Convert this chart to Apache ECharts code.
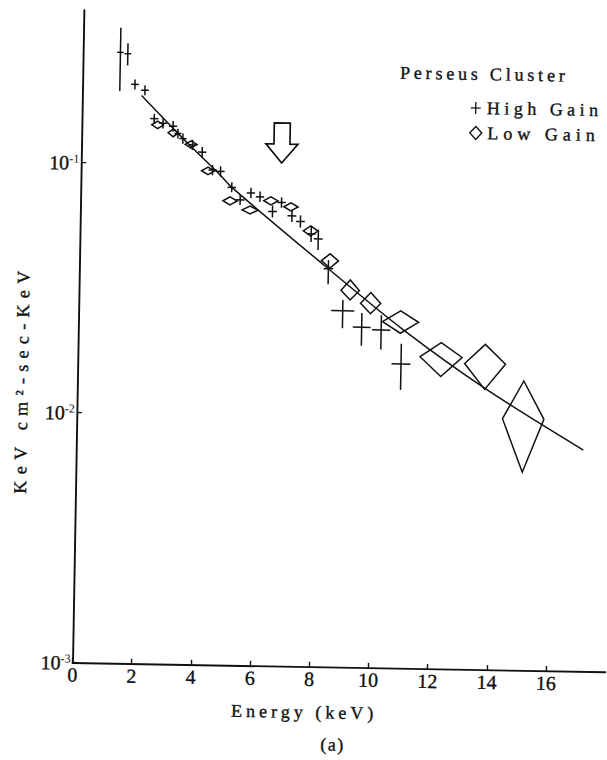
<!DOCTYPE html>
<html>
<head>
<meta charset="utf-8">
<script src="https://cdn.jsdelivr.net/npm/echarts@6/dist/echarts.min.js"></script>
<style>
  html, body { margin: 0; padding: 0; background: #fff; overflow: hidden; }
  #wrap { position: absolute; left: 0; top: 0; width: 607px; height: 760px;
          transform: rotate(1deg); transform-origin: 72.5px 662.7px; }
  #chart { width: 607px; height: 760px; }
</style>
</head>
<body>
<div id="wrap"><div id="chart"></div></div>
<script>
// High-gain counter: energy (keV), flux, energy half-width, flux lower / upper bound
const highGainEnergy    = [1.26, 1.51, 1.77, 2.11, 2.44, 2.74, 3.08, 3.25, 3.42, 3.75, 4.08, 4.44, 4.71, 5.10, 5.39, 5.75, 6.06, 6.49, 6.79, 7.15, 7.44, 7.81, 8.05, 8.41, 8.92, 9.57, 10.23, 10.92];
const highGainFlux      = [0.278, 0.275, 0.2075, 0.197, 0.152, 0.146, 0.142, 0.133, 0.127, 0.120, 0.1125, 0.0955, 0.0944, 0.0817, 0.0729, 0.0778, 0.0752, 0.0658, 0.0716, 0.0634, 0.0603, 0.0539, 0.0515, 0.0392, 0.0267, 0.0230, 0.0225, 0.0165];
const highGainEnergyErr = [0.11, 0.11, 0.13, 0.13, 0.14, 0.14, 0.14, 0.12, 0.12, 0.14, 0.14, 0.14, 0.14, 0.14, 0.15, 0.14, 0.14, 0.15, 0.14, 0.15, 0.15, 0.15, 0.15, 0.16, 0.39, 0.30, 0.31, 0.32];
const highGainFluxLow   = [0.195, 0.247, 0.198, 0.188, 0.145, 0.139, 0.135, 0.127, 0.121, 0.1145, 0.107, 0.091, 0.090, 0.078, 0.0695, 0.0742, 0.0717, 0.0623, 0.0683, 0.0600, 0.0570, 0.0500, 0.0465, 0.0340, 0.0227, 0.0194, 0.0188, 0.0130];
const highGainFluxHigh  = [0.349, 0.303, 0.217, 0.206, 0.159, 0.153, 0.149, 0.139, 0.133, 0.1257, 0.118, 0.100, 0.099, 0.0856, 0.0765, 0.0816, 0.0789, 0.0695, 0.0751, 0.0670, 0.0638, 0.0580, 0.0560, 0.0425, 0.0295, 0.0262, 0.0258, 0.0199];

// Low-gain counter: same layout, drawn as diamonds
const lowGainEnergy    = [2.56, 3.09, 3.70, 4.29, 5.05, 5.73, 6.43, 7.11, 7.79, 8.46, 9.16, 9.86, 10.88, 12.27, 13.76, 15.08];
const lowGainFlux      = [0.1435, 0.1337, 0.1205, 0.0947, 0.0721, 0.0665, 0.0726, 0.0689, 0.0554, 0.0422, 0.0322, 0.0287, 0.0243, 0.0177, 0.01675, 0.01014];
const lowGainEnergyErr = [0.20, 0.17, 0.20, 0.22, 0.24, 0.27, 0.24, 0.24, 0.25, 0.29, 0.31, 0.34, 0.61, 0.71, 0.69, 0.70];
const lowGainFluxLow   = [0.1385, 0.129, 0.1165, 0.0915, 0.0695, 0.0641, 0.0700, 0.0664, 0.0529, 0.0395, 0.0295, 0.0261, 0.0219, 0.0148, 0.01324, 0.00621];
const lowGainFluxHigh  = [0.1485, 0.1385, 0.1245, 0.0980, 0.0748, 0.0690, 0.0753, 0.0715, 0.0580, 0.0450, 0.0355, 0.0317, 0.0269, 0.0202, 0.02004, 0.01439];

// Best-fit continuum
const fitEnergy = [2.00, 3.44, 4.70, 5.10, 8.41, 10.98, 13.77, 17.13];
const fitFlux   = [0.1874, 0.1265, 0.0914, 0.0817, 0.0392, 0.0226, 0.01336, 0.00769];

// Arrow marking the iron-line feature (tip position)
const arrowTip = [6.77, 0.103];

// Axis ticks
const xTicks = [0, 2, 4, 6, 8, 10, 12, 14, 16];
const yTicks = [0.001, 0.01, 0.1];
const yTickExponents = ['-3', '-2', '-1'];

const ink = '#111';
const serif = '"Liberation Serif", "DejaVu Serif", serif';
const typeStyle = { fontFamily: serif, fill: ink, stroke: ink, lineWidth: 0.35 };

function rows(e, f, de, lo, hi) {
  return e.map((v, i) => [v, f[i], de[i], lo[i], hi[i]]);
}

function renderCross(params, api) {
  const e = api.value(0), f = api.value(1), de = api.value(2);
  const lo = api.value(3), hi = api.value(4);
  const l = api.coord([e - de, f]), r = api.coord([e + de, f]);
  const t = api.coord([e, hi]), b = api.coord([e, lo]);
  const st = { stroke: ink, lineWidth: 1.5, fill: null };
  return {
    type: 'group',
    children: [
      { type: 'line', shape: { x1: l[0], y1: l[1], x2: r[0], y2: r[1] }, style: st },
      { type: 'line', shape: { x1: t[0], y1: t[1], x2: b[0], y2: b[1] }, style: st }
    ]
  };
}

function renderDiamond(params, api) {
  const e = api.value(0), f = api.value(1), de = api.value(2);
  const lo = api.value(3), hi = api.value(4);
  const pts = [
    api.coord([e - de, f]), api.coord([e, hi]),
    api.coord([e + de, f]), api.coord([e, lo])
  ];
  return {
    type: 'polygon',
    shape: { points: pts },
    style: { stroke: ink, lineWidth: 1.5, fill: null }
  };
}

function renderArrow(params, api) {
  const p = api.coord([api.value(0), api.value(1)]);
  const x = p[0], y = p[1];
  return {
    type: 'polygon',
    shape: { points: [
      [x, y], [x - 16, y - 19], [x - 8, y - 19], [x - 8, y - 40],
      [x + 8, y - 40], [x + 8, y - 19], [x + 16, y - 19]
    ] },
    style: { stroke: ink, lineWidth: 1.7, fill: null }
  };
}

function title(text, x, y, size, align, extra) {
  return Object.assign({
    type: 'text', x: x, y: y,
    style: Object.assign({ text: text, fontSize: size, align: align, verticalAlign: 'middle' }, typeStyle)
  }, extra || {});
}

const chart = echarts.init(document.getElementById('chart'), null, { renderer: 'svg' });

const option = {
  backgroundColor: '#fff',
  animation: false,
  grid: { left: 72.5, top: 10, width: 532.8, height: 652.7, outerBoundsMode: 'none' },
  xAxis: {
    type: 'value', min: 0, max: 18,
    axisLine: { show: true, lineStyle: { color: ink, width: 1.9 } },
    axisTick: { show: true, inside: true, length: 5, customValues: xTicks, lineStyle: { color: ink, width: 1.4 } },
    axisLabel: {
      customValues: xTicks, color: ink, fontFamily: serif, fontSize: 20, margin: 2,
      textBorderColor: ink, textBorderWidth: 0.35
    },
    splitLine: { show: false }
  },
  yAxis: {
    type: 'log', logBase: 10, min: 0.001, max: 0.408,
    axisLine: { show: true, lineStyle: { color: ink, width: 1.9 } },
    axisTick: { show: true, inside: true, length: 5, customValues: yTicks, lineStyle: { color: ink, width: 1.4 } },
    axisLabel: {
      customValues: yTicks, margin: 2, color: ink,
      formatter: (v) => '{b|10}{s|' + yTickExponents[yTicks.findIndex(t => Math.abs(t - v) / t < 1e-6)] + '}',
      rich: {
        b: { fontFamily: serif, fontSize: 20, color: ink, textBorderColor: ink, textBorderWidth: 0.35 },
        s: { fontFamily: serif, fontSize: 12, color: ink, verticalAlign: 'top', padding: [0, 0, 8, 0] }
      }
    },
    splitLine: { show: false }
  },
  graphic: [
    title('Perseus Cluster', 474, 67, 18, 'center'),
    { type: 'line', shape: { x1: 461, y1: 101, x2: 471, y2: 101 }, style: { stroke: ink, lineWidth: 1.3 } },
    { type: 'line', shape: { x1: 466, y1: 95, x2: 466, y2: 107 }, style: { stroke: ink, lineWidth: 1.3 } },
    title('High Gain', 477, 101, 18, 'left'),
    { type: 'polygon', shape: { points: [[460.5, 126], [466.5, 119.5], [472.5, 126], [466.5, 132.5]] }, style: { stroke: ink, lineWidth: 1.4, fill: null } },
    title('Low Gain', 478, 126, 18, 'left'),
    title('Energy (keV)', 305, 708, 18, 'center'),
    title('(a)', 334, 740, 18, 'center'),
    title('KeV cm²-sec-KeV', 17, 380, 18, 'center', { rotation: Math.PI / 2 })
  ],
  series: [
    {
      name: 'Fit', type: 'line', data: fitEnergy.map((e, i) => [e, fitFlux[i]]),
      showSymbol: false, smooth: 0.3, lineStyle: { color: ink, width: 1.5 }, z: 1
    },
    {
      name: 'High Gain', type: 'custom', renderItem: renderCross,
      data: rows(highGainEnergy, highGainFlux, highGainEnergyErr, highGainFluxLow, highGainFluxHigh), z: 2
    },
    {
      name: 'Low Gain', type: 'custom', renderItem: renderDiamond,
      data: rows(lowGainEnergy, lowGainFlux, lowGainEnergyErr, lowGainFluxLow, lowGainFluxHigh), z: 2
    },
    {
      name: 'Arrow', type: 'custom', renderItem: renderArrow, data: [arrowTip], z: 3
    }
  ]
};

chart.setOption(option);

// Wide typewriter-style spacing for the titles
const spacing = {
  'Perseus Cluster': 3.8, 'High Gain': 4.5, 'Low Gain': 5.0,
  'Energy (keV)': 4.0, '(a)': 1.5, 'KeV cm²-sec-KeV': 6.3
};
function applySpacing() {
  document.querySelectorAll('#chart text').forEach(t => {
    const s = spacing[t.textContent];
    if (s !== undefined) t.style.letterSpacing = s + 'px';
  });
}
applySpacing();
chart.on('finished', applySpacing);
</script>
</body>
</html>
